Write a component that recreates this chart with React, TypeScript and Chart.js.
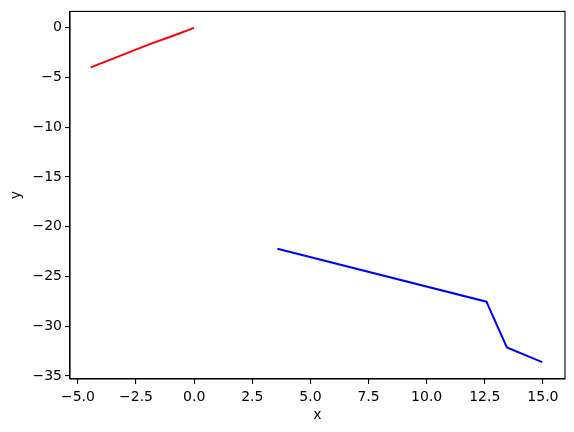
import { useEffect, useRef } from "react"
import { Chart, registerables } from "chart.js"

Chart.register(...registerables)

// red series
const redX = [-4.45, -1.88, -1.02, 0]
const redY = [-3.97, -1.62, -0.9, 0]

// blue series
const blueX = [3.58, 12.57, 13.45, 14.97]
const blueY = [-22.2, -27.53, -32.13, -33.6]

const xTicks = [-5, -2.5, 0, 2.5, 5, 7.5, 10, 12.5, 15]
const yTicks = [0, -5, -10, -15, -20, -25, -30, -35]

const fmt = (v: number, digits: number) => v.toFixed(digits).replace("-", "\u2212")

// matplotlib-like full box around the plot
const frame = {
  id: "frame",
  afterDraw(chart: Chart) {
    const { ctx, chartArea } = chart
    ctx.save()
    ctx.strokeStyle = "#000"
    ctx.lineWidth = 1.1
    ctx.strokeRect(chartArea.left, chartArea.top, chartArea.right - chartArea.left, chartArea.bottom - chartArea.top)
    ctx.restore()
  },
}

export default function App() {
  const canvasRef = useRef<HTMLCanvasElement>(null)
  const chartInstance = useRef<Chart | null>(null)

  useEffect(() => {
    document.body.style.margin = "0"
    if (!canvasRef.current) return
    if (chartInstance.current) chartInstance.current.destroy()

    const font = { family: "DejaVu Sans", size: 14 }

    chartInstance.current = new Chart(canvasRef.current, {
      type: "scatter",
      data: {
        datasets: [
          {
            data: redX.map((x, i) => ({ x, y: redY[i] })),
            borderColor: "#ff0000",
            borderWidth: 2,
            showLine: true,
            pointRadius: 0,
          },
          {
            data: blueX.map((x, i) => ({ x, y: blueY[i] })),
            borderColor: "#0000ff",
            borderWidth: 2,
            showLine: true,
            pointRadius: 0,
          },
        ],
      },
      options: {
        animation: false,
        responsive: true,
        maintainAspectRatio: false,
        layout: { padding: { left: 8, right: 9, top: 8.5, bottom: 8 } },
        plugins: {
          legend: { display: false },
          tooltip: { enabled: false },
        },
        scales: {
          x: {
            type: "linear",
            min: -5.34,
            max: 15.95,
            afterBuildTicks: (scale) => {
              scale.ticks = xTicks.map((value) => ({ value }))
            },
            afterFit: (scale) => {
              scale.height = 45
            },
            grid: { drawOnChartArea: false, drawTicks: true, tickLength: 5, color: "#000", lineWidth: 1.1 },
            border: { color: "#000", width: 1.1 },
            ticks: {
              color: "#000",
              font,
              padding: 5,
              maxRotation: 0,
              autoSkip: false,
              callback: (v) => fmt(Number(v), 1),
            },
            title: { display: true, text: "x", color: "#000", font, padding: { top: 2, bottom: 0 } },
          },
          y: {
            type: "linear",
            min: -35.3,
            max: 1.65,
            afterBuildTicks: (scale) => {
              scale.ticks = yTicks.map((value) => ({ value }))
            },
            afterFit: (scale) => {
              scale.width = 62
            },
            grid: { drawOnChartArea: false, drawTicks: true, tickLength: 5, color: "#000", lineWidth: 1.1 },
            border: { color: "#000", width: 1.1 },
            ticks: {
              color: "#000",
              font,
              padding: 3,
              autoSkip: false,
              callback: (v) => fmt(Number(v), 0),
            },
            title: { display: true, text: "y", color: "#000", font, padding: { top: 0, bottom: 4 } },
          },
        },
      },
      plugins: [frame],
    })

    return () => {
      if (chartInstance.current) {
        chartInstance.current.destroy()
        chartInstance.current = null
      }
    }
  }, [])

  return (
    <div style={{ width: 574, height: 432, position: "relative" }}>
      <canvas ref={canvasRef} />
    </div>
  )
}
